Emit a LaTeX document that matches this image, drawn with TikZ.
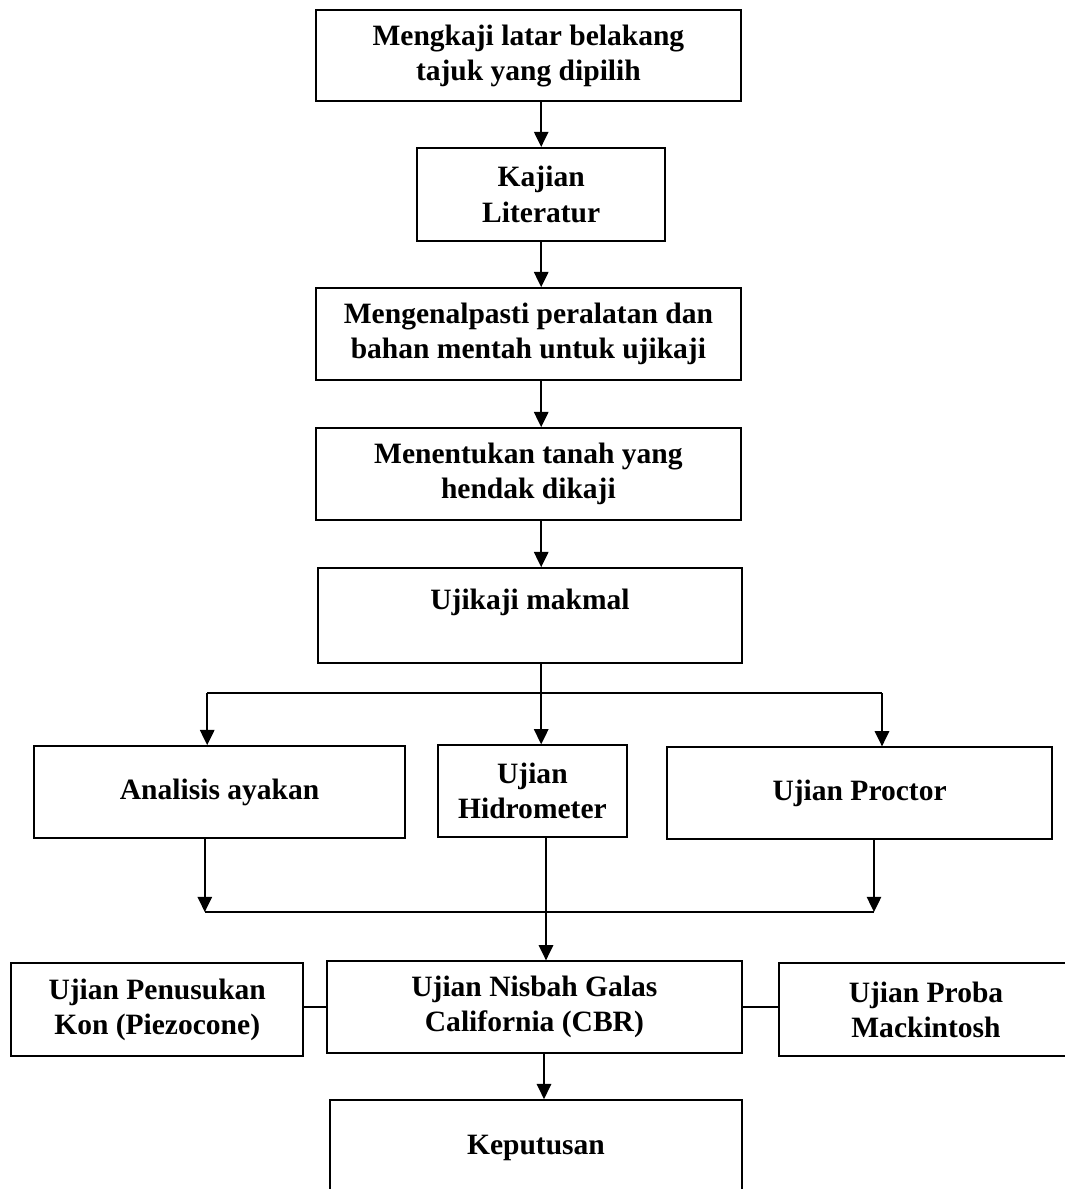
\documentclass[tikz,border=0pt]{standalone}
\usepackage{fontspec}
\setmainfont{Liberation Serif}
\usepackage{tikz}
\usetikzlibrary{arrows.meta}
\usepackage{xcolor}

\begin{document}
\begin{tikzpicture}[line width=1.2pt, >={Triangle[length=0.38cm,width=0.36cm]},
				font=\fontsize{21}{25}\selectfont\bfseries,
				kotak/.style={rectangle,draw,align=center,inner sep=2pt,minimum height=2.3cm}]
				\useasboundingbox (0,0) rectangle (26.625,-29.725);
				
				\node(k1) at (13.21,-1.39)[kotak,minimum width=10.63cm,minimum height=2.28cm]{Mengkaji latar belakang\\tajuk yang dipilih};
				\node(k2) at (13.53,-4.86)[kotak,minimum width=6.2cm,minimum height=2.33cm]{Kajian\\Literatur};
				\node(k3) at (13.21,-8.35)[kotak,minimum width=10.63cm]{Mengenalpasti peralatan dan\\bahan mentah untuk ujikaji};
				\node(k4) at (13.21,-11.85)[kotak,minimum width=10.63cm]{Menentukan tanah yang\\hendak dikaji};
				\node(k5) at (13.25,-15.39)[kotak,minimum width=10.6cm,minimum height=2.38cm,label={[yshift=0.34cm]center:Ujikaji makmal}]{};
				
				\node(k6) at (5.49,-19.8)[kotak,minimum width=9.28cm]{Analisis ayakan};
				\node(k7) at (13.31,-19.78)[kotak,minimum width=4.73cm]{Ujian\\Hidrometer};
				\node(k8) at (21.49,-19.83)[kotak,minimum width=9.63cm]{Ujian Proctor};
				
				\node(k9) at (13.36,-25.18)[kotak,minimum width=10.38cm]{Ujian Nisbah Galas\\California (CBR)};
				\node(k10) at (3.93,-25.24)[kotak,minimum width=7.3cm,minimum height=2.33cm]{Ujian Penusukan\\Kon (Piezocone)};
				\node(k11) at (23.15,-25.24)[kotak,minimum width=7.35cm,minimum height=2.33cm]{Ujian Proba\\Mackintosh};
				\node(k12) at (13.4,-28.69)[kotak,minimum width=10.3cm,minimum height=2.38cm]{Keputusan};
				
				\coordinate(c1) at (5.18,-17.33);
				\coordinate(c2) at (22.05,-17.33);
				\coordinate(c3) at (5.12,-22.8);
				\coordinate(c4) at (21.85,-22.8);
				\coordinate(c5) at (13.65,-22.8);
				\coordinate(c6) at (13.6,-27.2);
				
				\draw[->] (k1.south -| k2) to (k2.north);
				\draw[->] (k2.south) to (k3.north -| k2);
				\draw[->] (k3.south -| k2) to (k4.north -| k2);
				\draw[->] (k4.south -| k2) to (k5.north -| k2);
				\draw[->] (k5.south -| k2) to (k7.north -| k2);
				\draw (c1) to (c2);
				\draw[->] (c1) to (c1 |- k6.north);
				\draw[->] (c2) to (c2 |- k8.north);
				
				\draw[->] (k6.south -| c3) to (c3);
				\draw[->] (k8.south -| c4) to (c4);
				\draw (c3) to (c4);
				\draw[->] (k7.south -| c5) to (k9.north -| c5);
				
				\draw (k10.east |- k9.west) to (k9.west);
				\draw (k9.east) to (k11.west |- k9.east);
				\draw[->] (k9.south -| c6) to (k12.north -| c6);
				
			\end{tikzpicture}
\end{document}
